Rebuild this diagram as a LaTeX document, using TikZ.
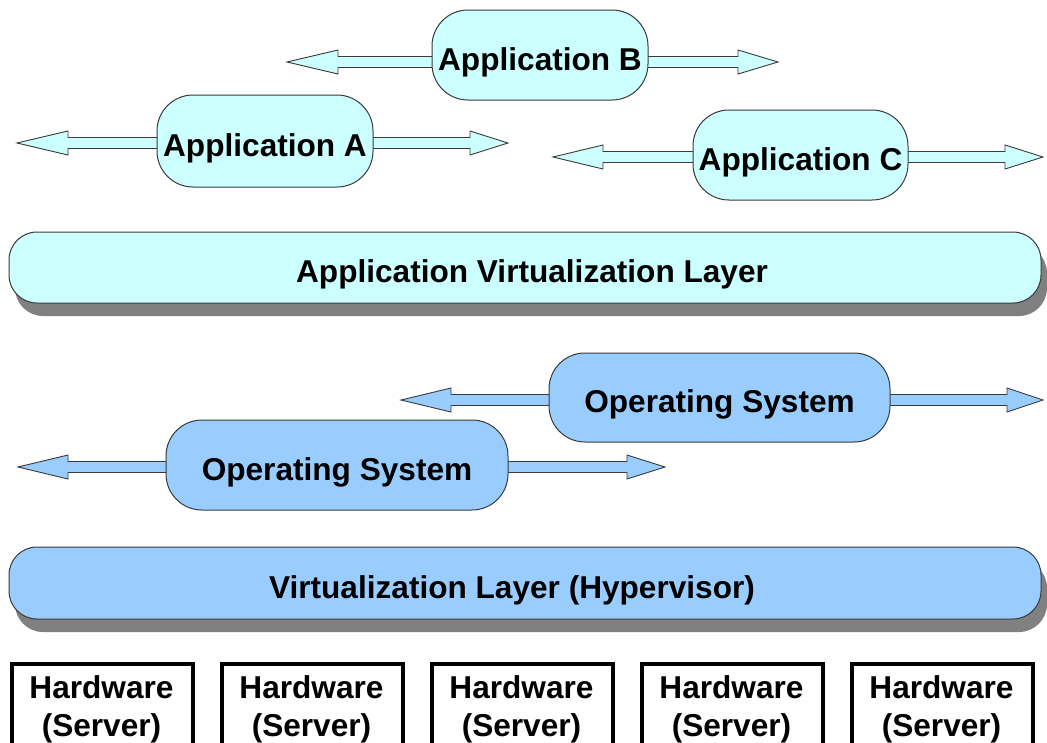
\documentclass[tikz,border=0pt]{standalone}
\usepackage{fontspec}
\setsansfont{Liberation Sans}
\usetikzlibrary{calc,shadows,backgrounds}
\definecolor{appc}{HTML}{CCFFFF}
\definecolor{osc}{HTML}{99CCFF}
\definecolor{edge}{HTML}{3A3A3A}
\definecolor{shad}{HTML}{808080}
\tikzset{
  lbl/.style={font=\sffamily\bfseries\fontsize{31.6}{38}\selectfont, text=black, inner sep=0pt},
  capsule/.style={lbl, text height=40pt, text depth=10pt, draw=edge, line width=1pt, rounded corners=36pt},
  appbox/.style={capsule, fill=appc},
  osbox/.style={capsule, fill=osc},
  layer/.style={lbl, text height=40pt, text depth=10pt, draw=edge, line width=1pt, rounded corners=28pt,
    drop shadow={shadow xshift=6pt, shadow yshift=-13pt, fill=shad, opacity=1}},
  hwbox/.style={draw=black, line width=3.5pt, fill=white, minimum width=181pt, minimum height=110pt, anchor=north, inner sep=0pt},
  hwtext/.style={lbl, align=center},
  apparrow/.style={fill=appc, draw=edge, line width=0.9pt, line join=miter},
  osarrow/.style={fill=osc, draw=edge, line width=0.9pt, line join=miter},
}
% right-pointing arrow from node #1 to tip #2, head length #3, style #4
\newcommand\rarrow[4]{%
  \draw[#4] let \p1=(#1), \p2=(#2) in
   (\x1,\y2+5.5pt) -- (\x2-#3,\y2+5.5pt) -- (\x2-#3,\y2+12pt) -- (\p2) --
   (\x2-#3,\y2-12pt) -- (\x2-#3,\y2-5.5pt) -- (\x1,\y2-5.5pt) -- cycle;}
% left-pointing arrow
\newcommand\larrow[4]{%
  \draw[#4] let \p1=(#1), \p2=(#2) in
   (\x1,\y2+5.5pt) -- (\x2+#3,\y2+5.5pt) -- (\x2+#3,\y2+12pt) -- (\p2) --
   (\x2+#3,\y2-12pt) -- (\x2+#3,\y2-5.5pt) -- (\x1,\y2-5.5pt) -- cycle;}
\begin{document}
\begin{tikzpicture}[x=1pt,y=-1pt]
\useasboundingbox (0,0) rectangle (1047,742);
\clip (0,0) rectangle (1047,742);

% Applications
\node[appbox, minimum width=216pt, minimum height=90pt] (appB) at (540,55) {Application B};
\node[appbox, minimum width=216pt, minimum height=92pt] (appA) at (265,141) {Application A};
\node[appbox, minimum width=215pt, minimum height=90pt] (appC) at (800.5,155) {Application C};

% Application virtualization layer
\node[layer, fill=appc, minimum width=1032pt, minimum height=71pt] (avl) at (525,267.5) {\hspace*{14pt}Application Virtualization Layer};

% Operating systems
\node[osbox, minimum width=341pt, minimum height=89pt] (os2) at (719.5,397.5) {Operating System};
\node[osbox, minimum width=342pt, minimum height=90pt] (os1) at (337,465) {Operating System};

% Hypervisor
\node[layer, fill=osc, minimum width=1032pt, minimum height=72pt] (hyp) at (525,583) {Virtualization Layer (Hypervisor)\hspace*{26pt}};

% Hardware
\foreach \i in {1,...,5}{
  \node[hwbox] (hw\i) at ({102.5+210*(\i-1)},662) {};
  \node[hwtext] (hwt\i) at ($(hw\i.north)+(-1,47)$) {Hardware\\(Server)};
}

% arrow tips
\coordinate (tAl) at (17,143);
\coordinate (tAr) at (508,143);
\coordinate (tBl) at (287,62);
\coordinate (tBr) at (778,62);
\coordinate (tCl) at (553,157);
\coordinate (tCr) at (1043,157);
\coordinate (t2l) at (401,400);
\coordinate (t2r) at (1043,400);
\coordinate (t1l) at (18,467);
\coordinate (t1r) at (665,467);

\begin{pgfonlayer}{background}
\fill[white] (0,0) rectangle (1047,742);
\larrow{appA.center}{tAl}{51pt}{apparrow}
\rarrow{appA.center}{tAr}{38pt}{apparrow}
\larrow{appB.center}{tBl}{51pt}{apparrow}
\rarrow{appB.center}{tBr}{40pt}{apparrow}
\larrow{appC.center}{tCl}{50pt}{apparrow}
\rarrow{appC.center}{tCr}{38pt}{apparrow}
\larrow{os2.center}{t2l}{50pt}{osarrow}
\rarrow{os2.center}{t2r}{36pt}{osarrow}
\larrow{os1.center}{t1l}{50pt}{osarrow}
\rarrow{os1.center}{t1r}{38pt}{osarrow}
\end{pgfonlayer}
\end{tikzpicture}
\end{document}
